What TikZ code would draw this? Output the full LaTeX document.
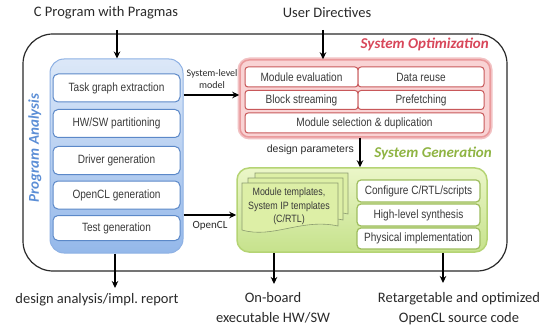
\documentclass[tikz,border=0pt]{standalone}
\usepackage{fontspec}
\setmainfont{Carlito}
\newfontfamily\narrowfont[FakeStretch=0.84]{Liberation Sans}
\newfontfamily\arialfont{Liberation Sans}
\usetikzlibrary{arrows.meta}
\definecolor{blueTop}{HTML}{DCE8F8}
\definecolor{blueBot}{HTML}{94B8EA}
\definecolor{blueEdge}{HTML}{8EB1E4}
\definecolor{blueLine}{HTML}{5B88C8}
\definecolor{blueText}{HTML}{5B8ED6}
\definecolor{redFill}{HTML}{F9D3D4}
\definecolor{redEdge}{HTML}{EA9A9C}
\definecolor{redLine}{HTML}{C8585A}
\definecolor{redText}{HTML}{D8475A}
\definecolor{greenTop}{HTML}{EBF6C8}
\definecolor{greenBot}{HTML}{C6E28C}
\definecolor{greenEdge}{HTML}{B5D474}
\definecolor{greenLine}{HTML}{9EBD5E}
\definecolor{greenText}{HTML}{8FB443}
\definecolor{docFill}{HTML}{DDEFA6}
\definecolor{docLine}{HTML}{8C9C70}
\definecolor{ink}{HTML}{2A2A2A}
\definecolor{boxText}{HTML}{3A3A3A}
\tikzset{
  arr/.style={line width=1.3pt, -{Stealth[length=7pt,width=6.5pt]}},
  outerbox/.style={draw=ink, line width=1.2pt, rounded corners=30pt},
  pabox/.style={draw=blueEdge, line width=1pt, rounded corners=14pt, top color=blueTop, bottom color=blueBot},
  itemfont/.style={font=\narrowfont\fontsize{12}{14}\selectfont},
  paitem/.style={draw=blueLine, line width=1pt, fill=white, rounded corners=5pt, minimum width=127pt, minimum height=28pt, inner sep=0pt, text=boxText, itemfont},
  soglow/.style={draw=redEdge!60, line width=4pt, rounded corners=10pt},
  sobox/.style={draw=redEdge, line width=1.5pt, rounded corners=9pt, fill=redFill},
  soitem/.style={draw=redLine, line width=1pt, fill=white, rounded corners=3pt, minimum height=20pt, inner sep=0pt, text=boxText, itemfont},
  sgbox/.style={draw=greenEdge, line width=1.5pt, rounded corners=12pt, top color=greenTop, bottom color=greenBot},
  sgitem/.style={draw=greenLine, line width=1.2pt, fill=white, rounded corners=4pt, minimum width=123pt, minimum height=22pt, inner sep=0pt, text=boxText, itemfont},
  docshape/.style={draw=docLine, line width=0.6pt, fill=docFill},
  iotext/.style={text=ink, font=\fontsize{14.5}{20}\selectfont, align=center, inner sep=0pt},
  heading/.style={font=\bfseries\itshape\fontsize{15}{17}\selectfont, inner sep=0pt},
  smalltext/.style={text=ink, inner sep=0pt, align=center}
}
\begin{document}
\begin{tikzpicture}[x=1pt,y=-1pt]
\useasboundingbox (0,0) rectangle (548,331);
\fill[white] (0,0) rectangle (548,331);

% outer frame
\node[outerbox, minimum width=484pt, minimum height=237pt] (outer) at (265,152.5) {};

% titles
\node[iotext] (cprog) at (106,13) {C Program with Pragmas};
\node[iotext] (udir) at (327,13) {User Directives};

% Program Analysis
\node[pabox, minimum width=133pt, minimum height=194pt] (pa) at (116.5,156) {};
\node[paitem] (tg) at (116.5,88) {Task graph extraction};
\node[paitem] (hw) at (116.5,123.5) {HW/SW partitioning};
\node[paitem] (dg) at (116.5,160.5) {Driver generation};
\node[paitem] (og) at (116.5,195) {OpenCL generation};
\node[paitem, minimum height=25pt] (tsg) at (116.5,228) {Test generation};
\node[heading, text=blueText, rotate=90] (palabel) at (35,148) {Program Analysis};

% System Optimization
\node[soglow, minimum width=251pt, minimum height=78pt] (soglowbox) at (365,98.5) {};
\node[sobox, minimum width=250pt, minimum height=77pt] (so) at (365,98.5) {};
\node[soitem, minimum width=113pt] (me) at (301.5,77) {Module evaluation};
\node[soitem, minimum width=126pt] (dr) at (421,77) {Data reuse};
\node[soitem, minimum width=113pt, minimum height=19pt] (bs) at (301.5,100) {Block streaming};
\node[soitem, minimum width=126pt, minimum height=19pt] (pf) at (421,100) {Prefetching};
\node[soitem, minimum width=239pt] (ms) at (364.5,123) {Module selection \& duplication};
\node[heading, text=redText, anchor=east] (solabel) at (489,44) {System Optimization};

% System Generation
\node[sgbox, minimum width=250pt, minimum height=84pt] (sg) at (362,210) {};
\node[sgitem] (cfg) at (418.5,191) {Configure C/RTL/scripts};
\node[sgitem] (hls) at (418.5,215) {High-level synthesis};
\node[sgitem, minimum height=21pt] (phy) at (418.5,238.5) {Physical implementation};
\node[heading, text=greenText, anchor=east] (sglabel) at (492,153) {System Generation};

% document stack
\foreach \xa/\xb/\ya/\yb in {255/348/173/218, 248/343/178/224, 242/338/183/230}{
  \draw[docshape] (\xa,\ya) -- (\xb,\ya) -- (\xb,\yb-4)
    .. controls (\xa+0.62*\xb-0.62*\xa,\yb-12) and (\xa+0.32*\xb-0.32*\xa,\yb+9) .. (\xa,\yb) -- cycle;
}
\node[smalltext, text=boxText, font=\narrowfont\fontsize{10.6}{13.5}\selectfont] (tmpl) at (289,206.5) {Module templates,\\System IP templates\\(C/RTL)};

% connectors
\coordinate (c1) at (117,30);
\draw[arr] (c1) -- (c1 |- pa.north);
\coordinate (c2) at (323,30);
\draw[arr] (c2) -- (c2 |- so.north);
\coordinate (c3) at (0,95);
\draw[arr] (pa.east |- c3) -- (so.west |- c3);
\node[smalltext, font=\fontsize{10}{12}\selectfont] (sllabel) at (212,79) {System-level\\model};
\coordinate (c4) at (0,215);
\draw[arr] (pa.east |- c4) -- (sg.west |- c4);
\node[smalltext, font=\fontsize{11}{13}\selectfont] (ocllabel) at (210,226) {OpenCL};
\coordinate (c5) at (360,0);
\draw[arr] (so.south -| c5) -- (sg.north -| c5);
\node[smalltext, anchor=east, font=\arialfont\fontsize{10.5}{12}\selectfont] (dplabel) at (354,150) {design parameters};

% outputs
\coordinate (o1) at (115,288);
\draw[arr] (o1 |- pa.south) -- (o1);
\node[iotext] (out1) at (97,300) {design analysis/impl.\ report};
\coordinate (o2) at (274,284);
\draw[arr] (o2 |- sg.south) -- (o2);
\node[iotext] (out2) at (273,308) {On-board\\executable HW/SW};
\coordinate (o3) at (443,283);
\draw[arr] (o3 |- sg.south) -- (o3);
\node[iotext] (out3) at (459,309) {Retargetable and optimized\\OpenCL source code};
\end{tikzpicture}
\end{document}
